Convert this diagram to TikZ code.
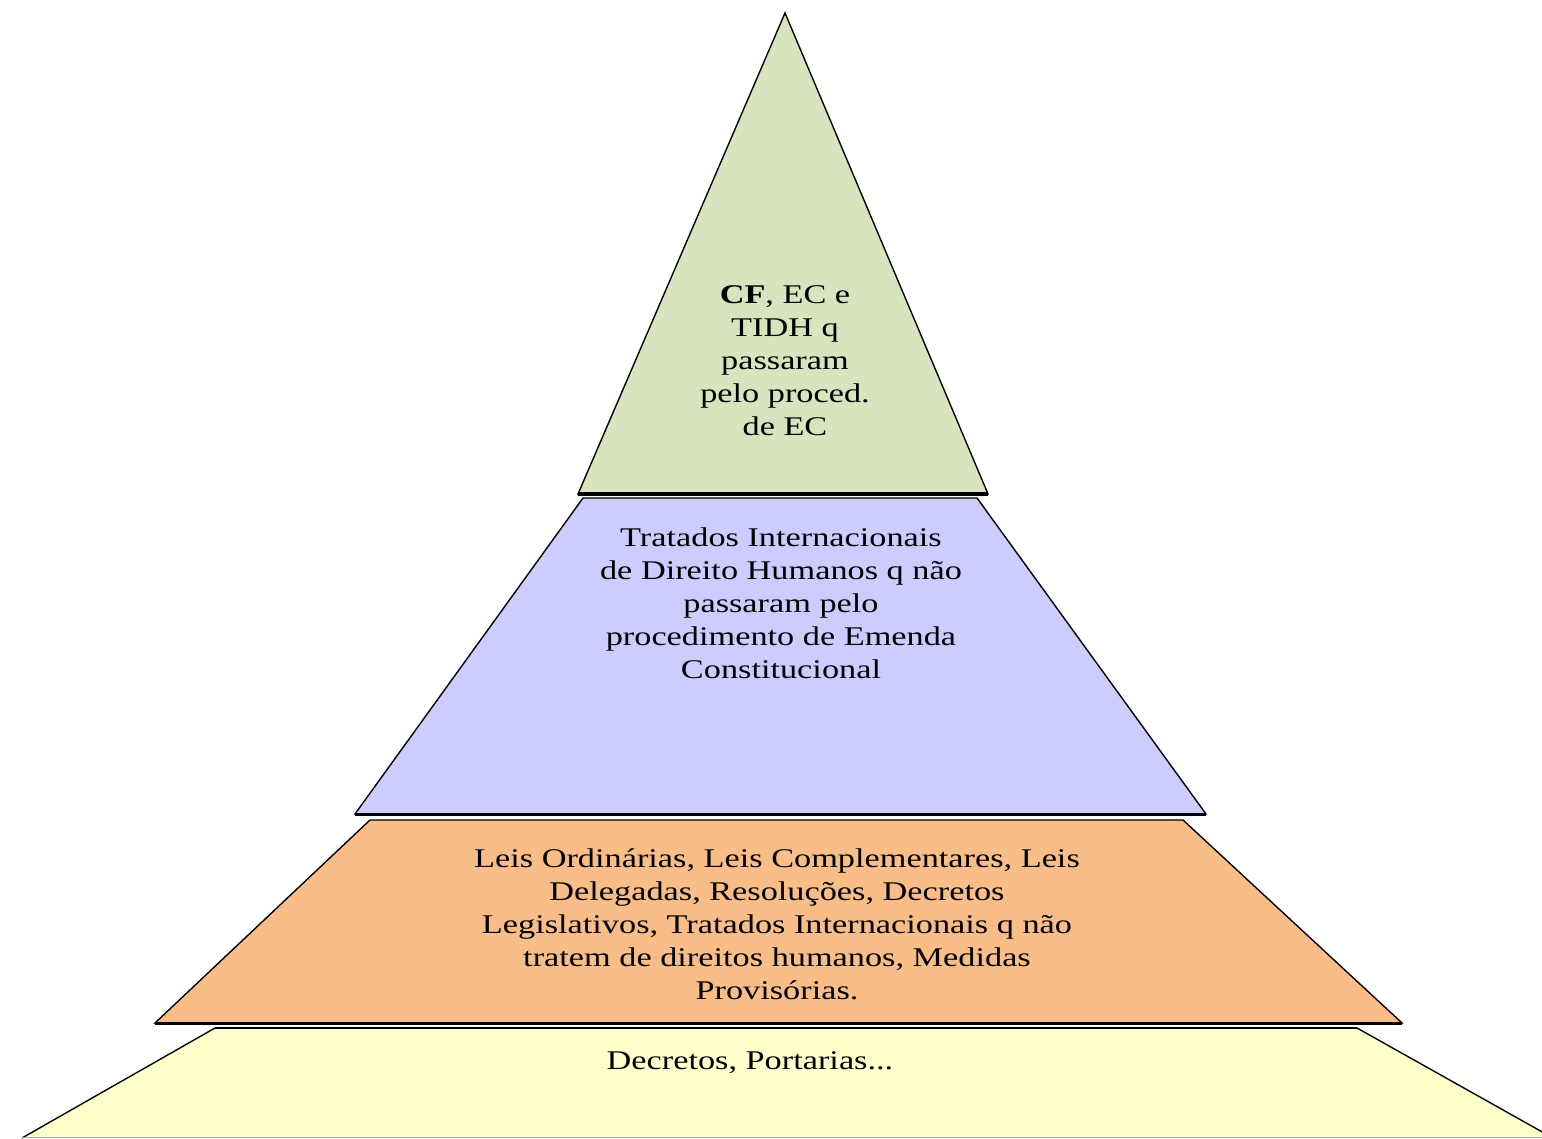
\documentclass[tikz,border=0pt]{standalone}
\usepackage{fontspec}
\setmainfont{Liberation Serif}
\newfontfamily\layerfont[FakeStretch=1.27]{Liberation Serif}
\definecolor{topgreen}{HTML}{D7E4BD}
\definecolor{treatyblue}{HTML}{CCCCFF}
\definecolor{laworange}{HTML}{F9BD88}
\definecolor{decreeyellow}{HTML}{FFFFCC}
\begin{document}
\begin{tikzpicture}[x=1pt,y=-1pt,
  layer/.style={draw=black,line width=1.4pt,line join=miter},
  baseedge/.style={draw=black,line width=3pt},
  layertext/.style={align=center,inner sep=0pt,
    font=\layerfont\fontsize{27}{33}\selectfont}]
\useasboundingbox (0,0) rectangle (1542,1139);
\fill[white] (0,0) rectangle (1542,1139);
\begin{scope}
\clip (0,0) rectangle (1542,1139);
% bottom level: decrees
\fill[decreeyellow] (215,1028) -- (1357,1028) -- (1553,1138) -- (22,1138) -- cycle;
\draw[line width=1.4pt] (22,1138) -- (215,1028) -- (1357,1028) -- (1553,1138);
\draw[gray!70,line width=1.4pt] (22,1137.5) -- (1553,1137.5);
\draw[baseedge,line width=2.2pt] (215,1028) -- (1357,1028);
% ordinary laws
\filldraw[layer,fill=laworange] (370,820) -- (1183,820) -- (1402,1023) -- (155,1023) -- cycle;
\draw[baseedge] (155,1023) -- (1402,1023);
% human-rights treaties
\filldraw[layer,fill=treatyblue] (583,498) -- (977,498) -- (1206,814) -- (355,814) -- cycle;
\draw[baseedge] (355,814) -- (1206,814);
% constitution
\filldraw[layer,fill=topgreen] (785,13) -- (988,494) -- (578,494) -- cycle;
\draw[baseedge,line width=3.6pt] (578,494) -- (988,494);
\end{scope}

\node[layertext] (cf) at (785,361)
  {\textbf{CF}, EC e\\TIDH q\\passaram\\pelo proced.\\de EC};
\node[layertext] (tidh) at (781,603)
  {Tratados Internacionais\\de Direito Humanos q não\\passaram pelo\\procedimento de Emenda\\Constitucional};
\node[layertext] (leis) at (777,924)
  {Leis Ordinárias, Leis Complementares, Leis\\Delegadas, Resoluções, Decretos\\Legislativos, Tratados Internacionais q não\\tratem de direitos humanos, Medidas\\Provisórias.};
\node[layertext] (decretos) at (750,1063) {Decretos, Portarias...};
\end{tikzpicture}
\end{document}
